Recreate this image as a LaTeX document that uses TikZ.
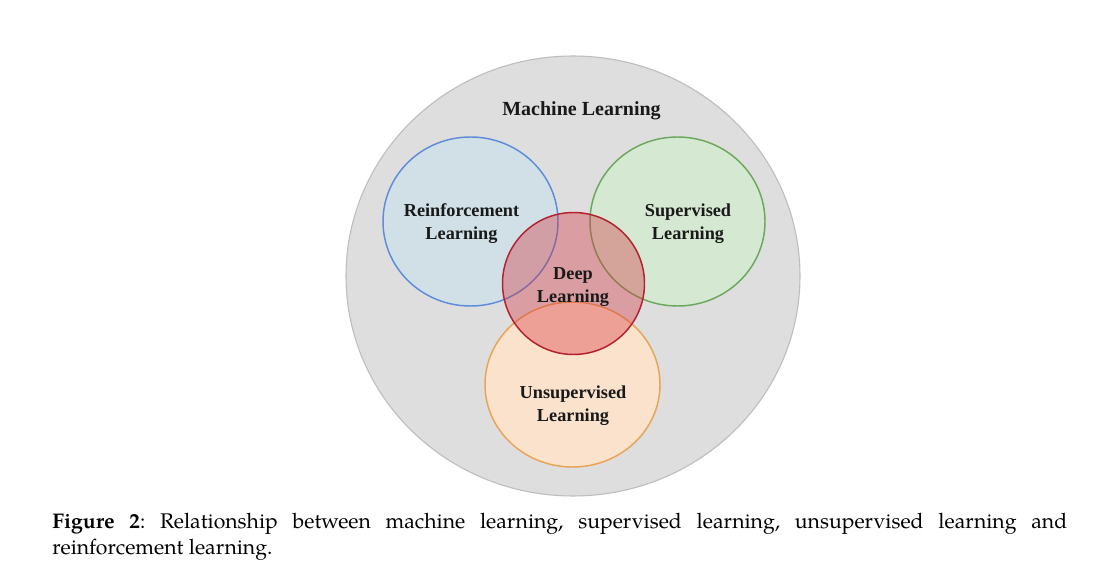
\documentclass[tikz,border=0pt]{standalone}
\usepackage{fontspec}
\setmainfont{Liberation Serif}
\newfontfamily\capfont{TeX Gyre Pagella}
\definecolor{mlfill}{HTML}{DEDEDE}
\definecolor{mlline}{HTML}{BDBDBD}
\definecolor{rlfill}{HTML}{D1E0E6}
\definecolor{rlline}{HTML}{5D8CDA}
\definecolor{slfill}{HTML}{D5E8D1}
\definecolor{slline}{HTML}{6BA85C}
\definecolor{ulfill}{HTML}{FBE2CC}
\definecolor{ulline}{HTML}{E8A457}
\definecolor{dlfill}{HTML}{D42F3A}
\definecolor{dlline}{HTML}{B3202E}
\tikzset{
  setbox/.style={line width=1.1pt},
  setlabel/.style={font=\fontsize{13.7pt}{16.8pt}\selectfont\bfseries, align=center, inner sep=0pt, text=black!90},
}
\begin{document}
\begin{tikzpicture}[x=0.75pt,y=-0.75pt]
\useasboundingbox (0,0) rectangle (1106,573);
\fill[white] (0,0) rectangle (1106,573);
% outer set
\draw[fill=mlfill, draw=mlline, line width=0.8pt] (573,276) ellipse [x radius=227, y radius=220];
% three sets
\draw[setbox, fill=rlfill, draw=rlline] (470.5,221.5) ellipse [x radius=87.5, y radius=84.5];
\draw[setbox, fill=slfill, draw=slline] (677.5,221.5) ellipse [x radius=87.5, y radius=84.5];
\draw[setbox, fill=ulfill, draw=ulline] (572.5,384.5) ellipse [x radius=87.5, y radius=82.5];
% deep learning on top
\draw[setbox, fill=dlfill, fill opacity=0.37, draw=dlline] (573.5,283.5) ellipse [x radius=71, y radius=71];
% labels
\node[setlabel, font=\fontsize{15pt}{18pt}\selectfont\bfseries, anchor=base] (ml) at (581.5,116) {Machine Learning};
\node[setlabel] (rl) at (461.5,223.5) {Reinforcement\\Learning};
\node[setlabel] (sl) at (688,223.5) {Supervised\\Learning};
\node[setlabel] (dl) at (573,287) {Deep\\Learning};
\node[setlabel] (ul) at (573,405.5) {Unsupervised\\Learning};
% caption
\node[anchor=base west, inner sep=0pt] (cap) at (52,528) {\begin{minipage}[t]{761.25pt}\capfont\fontsize{15.9pt}{19.5pt}\selectfont\frenchspacing\tolerance=9999\noindent\textbf{Figure 2}: Relationship between machine learning, supervised learning, unsupervised learning and\linebreak reinforcement learning.\end{minipage}};
\end{tikzpicture}
\end{document}
